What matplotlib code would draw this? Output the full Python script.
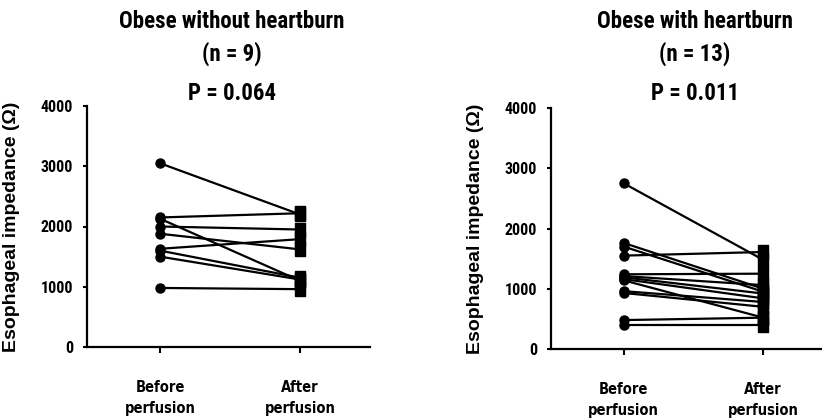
import matplotlib
matplotlib.use("Agg")
import matplotlib.pyplot as plt
import numpy as np

# ---- data ----
groups = ["Before\nperfusion", "After\nperfusion"]
left_title = "Obese without heartburn"
left_n = "(n = 9)"
left_p = "P = 0.064"
left_before = [3050, 2150, 2130, 2000, 1880, 1630, 1600, 1500, 980]
left_after = [2200, 2220, 1100, 1950, 1620, 1790, 1150, 1120, 960]

right_title = "Obese with heartburn"
right_n = "(n = 13)"
right_p = "P = 0.011"
right_before = [2750, 1760, 1700, 1550, 1240, 1210, 1190, 1160, 1140, 960, 930, 480, 400]
right_after = [1480, 1000, 950, 1610, 1250, 1060, 920, 840, 520, 780, 700, 520, 400]

yticks = [0, 1000, 2000, 3000, 4000]
ylabel = "Esophageal impedance (\u03a9)"

W, H = 822, 420
fig = plt.figure(figsize=(W / 100, H / 100), dpi=100)

narrow = ["Roboto Condensed", "Archivo Narrow", "PT Sans Narrow", "DejaVu Sans"]
rect_marker = [(-0.4, -0.5), (0.4, -0.5), (0.4, 0.5), (-0.4, 0.5), (-0.4, -0.5)]


def px_axes(x0, x1, ytop, ybot):
    return fig.add_axes([x0 / W, 1 - ybot / H, (x1 - x0) / W, (ybot - ytop) / H])


def panel(ax, before, after, title, n, p, cx):
    for b, a in zip(before, after):
        ax.plot([0, 1], [b, a], color="black", lw=1.6, zorder=2, clip_on=False)
    ax.plot(np.zeros(len(before)), before, "o", color="black", ms=6.5,
            zorder=3, clip_on=False)
    ax.plot(np.ones(len(after)), after, marker=rect_marker, ls="none",
            color="black", ms=9.5, zorder=3, clip_on=False)
    ax.set_xlim(-0.521, 1.5)
    ax.set_ylim(0, 4000)
    ax.set_yticks(yticks)
    ax.set_yticklabels([str(t) for t in yticks], family=narrow,
                       fontweight="bold", fontsize=11.5)
    ax.set_xticks([0, 1])
    ax.set_xticklabels(groups, family="DejaVu Sans", fontstretch="condensed",
                       fontweight="bold", fontsize=10.5, linespacing=1.5)
    ax.tick_params(axis="y", direction="out", length=3, width=1.5, pad=7)
    ax.tick_params(axis="x", direction="out", length=4, width=1.5, pad=20)
    for s in ("top", "right"):
        ax.spines[s].set_visible(False)
    for s in ("left", "bottom"):
        ax.spines[s].set_linewidth(1.6)
    ax.set_ylabel(ylabel, family=["Liberation Sans", "DejaVu Sans"],
                  fontweight="bold", fontsize=14)
    ax.yaxis.set_label_coords(-0.237, 0.5)
    ax.patch.set_alpha(0)
    fig.text(cx / W, 1 - 21 / H, title, ha="center", va="center",
             family=narrow, fontweight="bold", fontsize=16.5)
    fig.text(cx / W, 1 - 54 / H, n, ha="center", va="center",
             family=narrow, fontweight="bold", fontsize=16.5)
    fig.text(cx / W, 1 - 93 / H, p, ha="center", va="center",
             family=narrow, fontweight="bold", fontsize=16.5)


ax1 = px_axes(87, 370, 106, 347)
panel(ax1, left_before, left_after, left_title, left_n, left_p, 232)
ax2 = px_axes(551, 833, 108, 349)
panel(ax2, right_before, right_after, right_title, right_n, right_p, 695)

fig.savefig("out.png", dpi=100)
